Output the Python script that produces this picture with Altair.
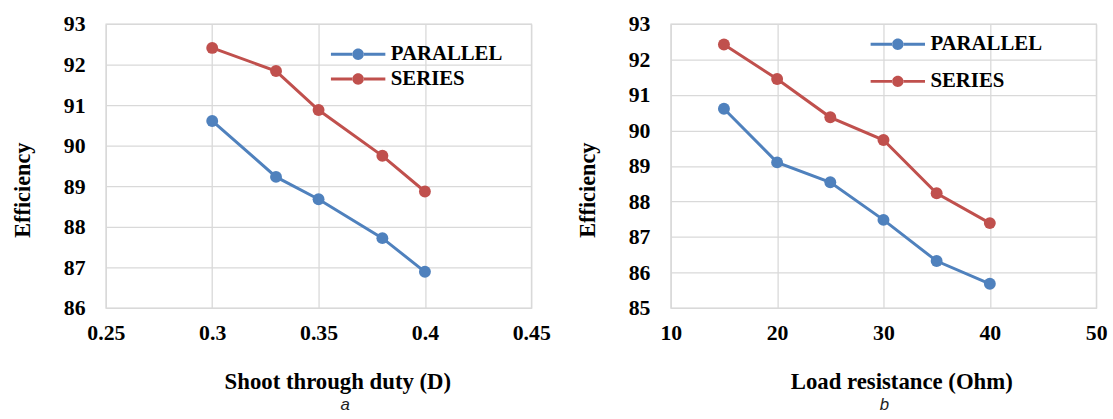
import altair as alt
import pandas as pd

# ---- data ----
series_names = ["PARALLEL", "SERIES"]
series_colors = ["#4F81BD", "#C0504D"]

duty = [0.30, 0.33, 0.35, 0.38, 0.40]
duty_parallel = [90.61, 89.23, 88.68, 87.72, 86.89]
duty_series = [92.41, 91.84, 90.88, 89.75, 88.87]

load = [15, 20, 25, 30, 35, 40]
load_parallel = [90.61, 89.10, 88.54, 87.48, 86.32, 85.68]
load_series = [92.42, 91.45, 90.37, 89.73, 88.23, 87.39]

duty_ticks = [0.25, 0.30, 0.35, 0.40, 0.45]
load_ticks = [10, 20, 30, 40, 50]
eff_ticks_a = [86, 87, 88, 89, 90, 91, 92, 93]
eff_ticks_b = [85, 86, 87, 88, 89, 90, 91, 92, 93]


def make_df(xs, par, ser):
    rows = []
    for x, v in zip(xs, par):
        rows.append({"x": x, "Efficiency": v, "Series": series_names[0]})
    for x, v in zip(xs, ser):
        rows.append({"x": x, "Efficiency": v, "Series": series_names[1]})
    return pd.DataFrame(rows)


SERIF = "serif"
# symbol drawn in units of 10 px (symbolSize 400 -> sqrt = 20 px = 2 units)
LEG_PATH = (
    "M-2.75,-0.15 L-0.55,-0.15 L-0.55,0.15 L-2.75,0.15 Z "
    "M0.55,-0.15 L2.75,-0.15 L2.75,0.15 L0.55,0.15 Z "
    "M-0.58,0 A0.58,0.58 0 1,0 0.58,0 A0.58,0.58 0 1,0 -0.58,0 Z"
)


def panel(df, xtitle, xdomain, xticks, xfmt, ydomain, yticks, height,
          caption, leg_x, leg_y, row_pad, title_dx, cap_dx):
    color = alt.Color(
        "Series:N",
        scale=alt.Scale(domain=series_names, range=series_colors),
        legend=alt.Legend(
            orient="none", legendX=leg_x, legendY=leg_y, title=None,
            symbolType=LEG_PATH, symbolSize=400, symbolStrokeWidth=0,
            symbolOpacity=1, labelFont=SERIF, labelFontWeight="bold",
            labelFontSize=21, labelColor="black", labelOffset=22.5,
            rowPadding=row_pad, padding=0,
        ),
    )
    axis_style = dict(
        labelFont=SERIF, labelFontWeight="bold", labelFontSize=22,
        labelColor="black", titleFont=SERIF, titleFontWeight="bold",
        titleColor="black", labelFlush=False,
    )
    base = alt.Chart(df).encode(
        x=alt.X(
            "x:Q",
            scale=alt.Scale(domain=xdomain, nice=False, zero=False),
            axis=alt.Axis(values=xticks, format=xfmt, title=xtitle,
                          titleX=215 + title_dx, titleFontSize=23,
                          **axis_style),
        ),
        y=alt.Y(
            "Efficiency:Q",
            scale=alt.Scale(domain=ydomain, nice=False, zero=False),
            axis=alt.Axis(values=yticks, format="d", title="Efficiency",
                          titleY=height / 2 + 24, titleFontSize=22.5,
                          **axis_style),
        ),
        color=color,
    )
    lines = base.mark_line(strokeWidth=3)
    points = base.mark_point(filled=True, size=145, opacity=1)
    return alt.layer(lines, points).properties(
        width=430,
        height=height,
        title=alt.TitleParams(
            caption, orient="bottom", anchor="middle", dx=cap_dx, offset=4,
            font="Liberation Sans", fontStyle="italic", fontWeight="normal",
            fontSize=17, color="#222222",
        ),
    )


left = panel(make_df(duty, duty_parallel, duty_series),
             "Shoot through duty (D)", [0.25, 0.45], duty_ticks, ".2~f",
             [86, 93], eff_ticks_a, 287, "a", 244.5, 20, 3, 19, 27)
right = panel(make_df(load, load_parallel, load_series),
              "Load resistance (Ohm)", [10, 50], load_ticks, "d",
              [85, 93], eff_ticks_b, 287, "b", 219, 10, 15.5, 18, 1)

chart = (
    alt.hconcat(left, right, spacing=25)
    .resolve_scale(color="independent")
    .resolve_legend(color="independent")
    .properties(padding={"left": 11, "top": 10, "right": 5, "bottom": 0})
    .configure_view(stroke="#d9d9d9", strokeWidth=1.3)
    .configure_axis(
        grid=True, gridColor="#d9d9d9", gridWidth=1.3,
        domain=False, ticks=False, tickSize=0,
        labelFont=SERIF, labelFontWeight="bold", labelFontSize=22,
        labelColor="black", labelPadding=15,
        titleFont=SERIF, titleFontWeight="bold", titleFontSize=22,
        titleColor="black",
    )
    .configure_axisY(labelPadding=21, titlePadding=29)
    .configure_axisX(titlePadding=27)
)

chart.save("out.html", embed_options={"renderer": "svg", "actions": False})
